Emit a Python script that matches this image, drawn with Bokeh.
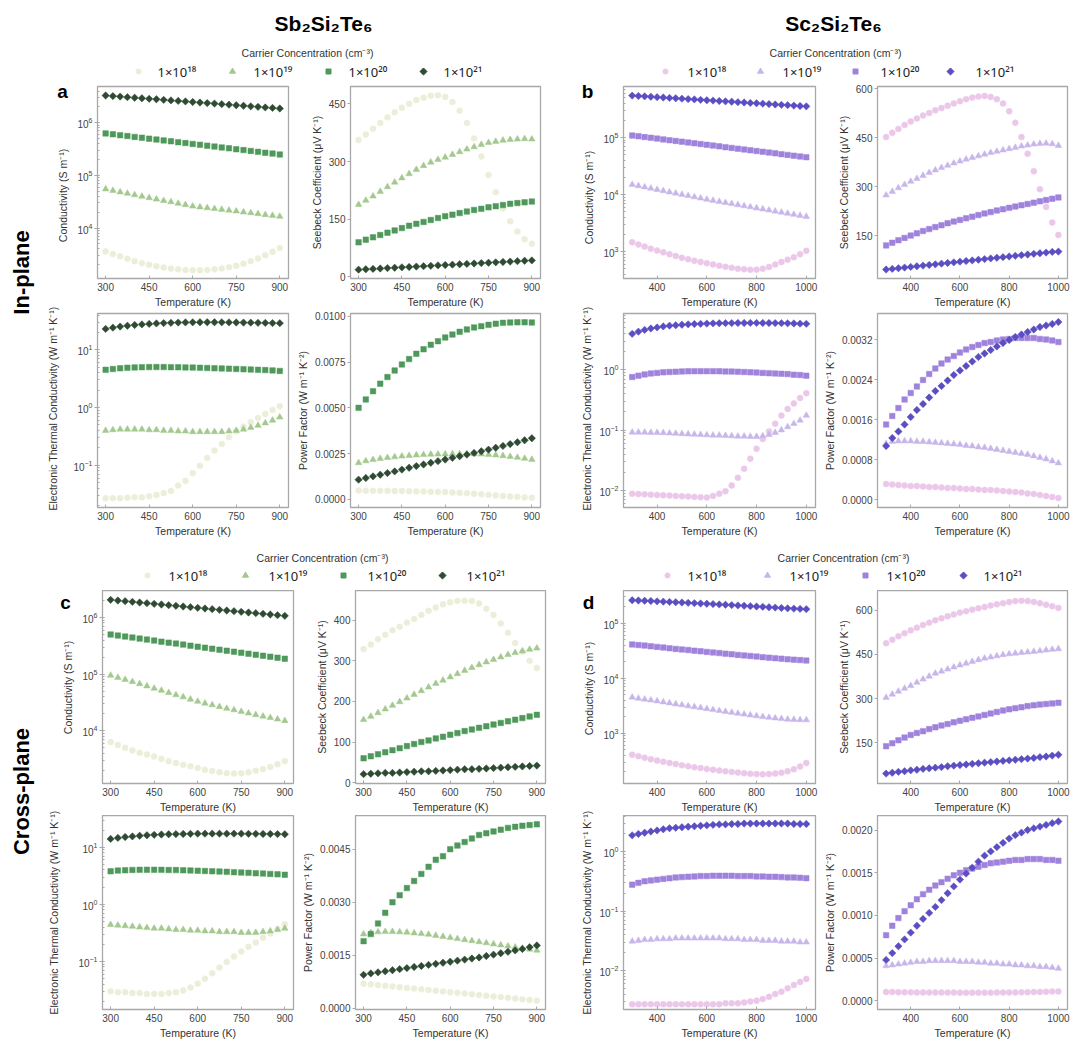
import math
from bokeh.plotting import figure
from bokeh.models import Range1d, FixedTicker, NumeralTickFormatter, Label, LogTicker, ColumnDataSource
from bokeh.layouts import row, column
from bokeh.embed import file_html
from bokeh.resources import INLINE

FONT = "Liberation Sans"
SUPFONT = "Noto Sans"
TXT = "#333333"
EDGE = "#a8a8a8"

# ---------------- data ----------------
T_SB = [300, 325, 350, 375, 400, 425, 450, 475, 500, 525, 550, 575, 600, 625, 650, 675, 700, 725, 750, 775, 800, 825, 850, 875, 900]
T_SC = [300, 325, 350, 375, 400, 425, 450, 475, 500, 525, 550, 575, 600, 625, 650, 675, 700, 725, 750, 775, 800, 825, 850, 875, 900, 925, 950, 975, 1000]
LEGEND_LABELS = ["1×10¹⁸", "1×10¹⁹", "1×10²⁰", "1×10²¹"]
LEGEND_TITLE = "Carrier Concentration (cm⁻³)"
TITLE_SB = "Sb₂Si₂Te₆"
TITLE_SC = "Sc₂Si₂Te₆"
ROW_LABELS = ["In-plane", "Cross-plane"]
PANEL_LETTERS = ["a", "b", "c", "d"]
XLABEL = "Temperature (K)"
YLABELS = ["Conductivity (S m⁻¹)", "Seebeck Coefficient (μV K⁻¹)",
           "Electronic Thermal Conductivity (W m⁻¹ K⁻¹)", "Power Factor (W m⁻¹ K⁻²)"]
X_TICKS_SB = [300, 450, 600, 750, 900]
X_TICKS_SC = [400, 600, 800, 1000]

# (a) Sb2Si2Te6 in-plane
A_COND_18 = [3600, 3200, 2900, 2600, 2350, 2150, 2000, 1880, 1780, 1700, 1640, 1600, 1580, 1580, 1600, 1640, 1700, 1800, 1920, 2100, 2350, 2650, 3050, 3550, 4200]
A_COND_19 = [55000, 51500, 48400, 45400, 42600, 40000, 37500, 35300, 33200, 31300, 29400, 27700, 26000, 25100, 24200, 23300, 22500, 21700, 20900, 20100, 19400, 18600, 17900, 17300, 16600]
A_COND_20 = [630000, 606000, 583000, 561000, 540000, 520000, 500000, 481000, 463000, 446000, 429000, 413000, 397000, 382000, 368000, 354000, 340000, 328000, 315000, 303000, 292000, 281000, 270000, 260000, 250000]
A_COND_21 = [3300000, 3220000, 3150000, 3070000, 3000000, 2930000, 2860000, 2800000, 2730000, 2670000, 2610000, 2550000, 2490000, 2430000, 2370000, 2320000, 2260000, 2210000, 2160000, 2110000, 2060000, 2010000, 1960000, 1920000, 1870000]
A_SEEB_18 = [356, 370, 385, 400, 415, 428, 440, 450, 460, 466, 471, 472, 468, 455, 432, 400, 360, 313, 265, 220, 178, 145, 118, 98, 86]
A_SEEB_19 = [188, 199, 210, 222, 234, 246, 257, 268, 279, 289, 298, 305, 311, 318, 325, 332, 338, 344, 349, 352, 355, 357, 358, 359, 358]
A_SEEB_20 = [90, 97, 103, 109, 115, 121, 127, 133, 138, 143, 148, 153, 158, 162, 166, 170, 174, 177, 181, 184, 187, 190, 192, 194, 196]
A_SEEB_21 = [19, 20, 21, 22, 23, 24, 25, 26, 27, 28, 29, 30, 31, 32, 33, 34, 35, 36, 37, 38, 39, 40, 41, 42, 43]
A_KAPPA_18 = [0.027, 0.027, 0.027, 0.0275, 0.028, 0.028, 0.029, 0.0306, 0.033, 0.036, 0.0445, 0.054, 0.073, 0.098, 0.134, 0.18, 0.234, 0.305, 0.39, 0.47, 0.556, 0.66, 0.775, 0.91, 1.05]
A_KAPPA_19 = [0.40, 0.41, 0.42, 0.42, 0.42, 0.42, 0.41, 0.41, 0.40, 0.40, 0.39, 0.39, 0.38, 0.38, 0.38, 0.38, 0.38, 0.39, 0.40, 0.42, 0.45, 0.49, 0.54, 0.60, 0.68]
A_KAPPA_20 = [4.5, 4.65, 4.78, 4.88, 4.95, 5.0, 5.02, 5.03, 5.02, 5.0, 4.98, 4.95, 4.92, 4.88, 4.84, 4.8, 4.76, 4.71, 4.66, 4.61, 4.56, 4.5, 4.45, 4.4, 4.3]
A_KAPPA_21 = [23, 24.2, 25.2, 26.1, 26.9, 27.5, 28.1, 28.6, 29.0, 29.3, 29.6, 29.8, 29.9, 30.0, 30.0, 30.0, 29.9, 29.8, 29.7, 29.6, 29.5, 29.3, 29.2, 29.0, 28.9]
A_PF_18 = [0.00049, 0.00048, 0.00048, 0.00047, 0.00047, 0.00046, 0.00046, 0.00045, 0.00044, 0.00043, 0.00042, 0.00041, 0.0004, 0.00038, 0.00036, 0.00034, 0.00031, 0.00028, 0.00025, 0.00022, 0.00019, 0.00016, 0.00014, 0.00011, 0.00009]
A_PF_19 = [0.00200, 0.00210, 0.00217, 0.00223, 0.00228, 0.00232, 0.00236, 0.00239, 0.00242, 0.00244, 0.00246, 0.00247, 0.00248, 0.00249, 0.00249, 0.00249, 0.00248, 0.00247, 0.00245, 0.00242, 0.00238, 0.00234, 0.00229, 0.00224, 0.00218]
A_PF_20 = [0.00500, 0.00546, 0.00591, 0.00632, 0.00668, 0.00704, 0.00737, 0.00766, 0.00795, 0.0082, 0.00844, 0.00864, 0.00884, 0.009, 0.00915, 0.00928, 0.00939, 0.00946, 0.00953, 0.00959, 0.00964, 0.00966, 0.00967, 0.00967, 0.00966]
A_PF_21 = [0.00108, 0.00117, 0.00126, 0.00135, 0.00144, 0.00153, 0.00163, 0.00173, 0.00182, 0.00191, 0.002, 0.00209, 0.00218, 0.00227, 0.00236, 0.00245, 0.00254, 0.00263, 0.00272, 0.00282, 0.00292, 0.00302, 0.00312, 0.00323, 0.00334]

# (b) Sc2Si2Te6 in-plane
B_COND_18 = [1460, 1330, 1220, 1120, 1040, 970, 900, 835, 776, 730, 690, 655, 625, 595, 565, 540, 518, 500, 488, 480, 482, 500, 535, 590, 655, 720, 795, 900, 1030]
B_COND_19 = [14900, 14170, 13480, 12820, 12200, 11600, 11040, 10500, 9990, 9500, 9040, 8600, 8180, 7830, 7500, 7190, 6880, 6590, 6310, 6040, 5790, 5540, 5310, 5080, 4870, 4660, 4460, 4280, 4100]
B_COND_20 = [108000, 104700, 101400, 98300, 95300, 92300, 89500, 86700, 84100, 81500, 79000, 76500, 74200, 71900, 69700, 67500, 65400, 63400, 61500, 59600, 57700, 55900, 54200, 52600, 50900, 49400, 47800, 46400, 45000]
B_COND_21 = [540000, 532000, 524000, 516000, 508000, 500000, 492000, 485000, 477000, 470000, 463000, 455000, 448000, 442000, 435000, 428000, 422000, 415000, 409000, 402000, 396000, 390000, 384000, 378000, 372000, 367000, 361000, 355000, 350000]
B_SEEB_18 = [452, 465, 477, 489, 500, 509, 518, 526, 534, 541, 548, 555, 562, 568, 573, 576, 578, 575, 568, 555, 531, 496, 452, 401, 347, 292, 238, 190, 152]
B_SEEB_19 = [274, 285, 296, 306, 316, 325, 334, 343, 351, 358, 365, 372, 378, 384, 389, 394, 399, 404, 408, 412, 416, 420, 424, 427, 430, 432, 433, 431, 426]
B_SEEB_20 = [120, 128, 136, 143, 150, 157, 164, 170, 176, 182, 188, 193, 198, 203, 208, 213, 218, 222, 227, 231, 235, 239, 243, 247, 251, 255, 259, 263, 267]
B_SEEB_21 = [46, 48, 50, 52, 54, 56, 58, 60, 62, 64, 66, 68, 70, 72, 74, 76, 78, 80, 82, 84, 86, 88, 90, 92, 94, 96, 98, 100, 101]
B_KAPPA_18 = [0.0088, 0.0087, 0.0086, 0.0085, 0.0084, 0.0083, 0.0082, 0.0081, 0.008, 0.0079, 0.0078, 0.0077, 0.0076, 0.0081, 0.0088, 0.0097, 0.0121, 0.0162, 0.0229, 0.0336, 0.049, 0.071, 0.095, 0.128, 0.174, 0.224, 0.277, 0.34, 0.41]
B_KAPPA_19 = [0.092, 0.092, 0.092, 0.091, 0.091, 0.09, 0.089, 0.088, 0.087, 0.086, 0.085, 0.084, 0.083, 0.082, 0.082, 0.081, 0.08, 0.079, 0.079, 0.078, 0.078, 0.08, 0.084, 0.091, 0.1, 0.113, 0.128, 0.145, 0.175]
B_KAPPA_20 = [0.76, 0.80, 0.84, 0.87, 0.89, 0.91, 0.92, 0.93, 0.94, 0.945, 0.95, 0.95, 0.95, 0.95, 0.945, 0.94, 0.935, 0.93, 0.92, 0.91, 0.9, 0.89, 0.88, 0.87, 0.86, 0.85, 0.83, 0.82, 0.80]
B_KAPPA_21 = [3.95, 4.3, 4.6, 4.85, 5.05, 5.25, 5.4, 5.5, 5.6, 5.68, 5.75, 5.8, 5.85, 5.9, 5.93, 5.95, 5.97, 5.98, 5.99, 6.0, 6.0, 5.99, 5.98, 5.96, 5.94, 5.91, 5.88, 5.84, 5.8]
B_PF_18 = [0.00031, 0.0003, 0.00029, 0.00028, 0.00027, 0.00027, 0.00026, 0.00025, 0.00025, 0.00024, 0.00023, 0.00023, 0.00022, 0.00021, 0.00021, 0.0002, 0.00019, 0.00019, 0.00018, 0.00017, 0.00016, 0.00015, 0.00014, 0.00012, 0.00011, 0.00009, 0.00007, 0.00005, 0.00003]
B_PF_19 = [0.00112, 0.00116, 0.00117, 0.00117, 0.00117, 0.00116, 0.00116, 0.00115, 0.00114, 0.00113, 0.00112, 0.00111, 0.0011, 0.00108, 0.00107, 0.00105, 0.00104, 0.00102, 0.001, 0.00098, 0.00096, 0.00094, 0.00092, 0.0009, 0.00087, 0.00084, 0.00081, 0.00077, 0.00073]
B_PF_20 = [0.0015, 0.00167, 0.00183, 0.002, 0.00213, 0.00226, 0.00239, 0.00251, 0.00262, 0.00272, 0.0028, 0.00287, 0.00294, 0.003, 0.00305, 0.00309, 0.00313, 0.00315, 0.00318, 0.0032, 0.00321, 0.00323, 0.00323, 0.00323, 0.00323, 0.00321, 0.0032, 0.00318, 0.00315]
B_PF_21 = [0.00107, 0.00123, 0.00136, 0.0015, 0.00165, 0.00179, 0.00191, 0.00204, 0.00217, 0.00227, 0.00238, 0.00249, 0.00258, 0.00267, 0.00276, 0.00285, 0.00292, 0.00299, 0.00306, 0.00313, 0.00319, 0.00325, 0.0033, 0.00335, 0.0034, 0.00345, 0.00348, 0.00351, 0.00355]

# (c) Sb2Si2Te6 cross-plane
C_COND_18 = [6300, 5600, 5000, 4500, 4100, 3800, 3500, 3200, 2900, 2700, 2500, 2350, 2200, 2050, 1950, 1850, 1780, 1750, 1770, 1850, 1970, 2100, 2300, 2550, 2900]
C_COND_19 = [95000, 87000, 80000, 73500, 67500, 61500, 56000, 51500, 47000, 43000, 39500, 36000, 33000, 30500, 28500, 26500, 24800, 23300, 21800, 20400, 19100, 18000, 17000, 16000, 15000]
C_COND_20 = [500000, 480000, 461000, 442000, 424000, 407000, 391000, 375000, 360000, 346000, 332000, 318000, 305000, 293000, 281000, 270000, 259000, 249000, 239000, 229000, 220000, 211000, 203000, 195000, 187000]
C_COND_21 = [2050000, 1995000, 1942000, 1890000, 1840000, 1791000, 1743000, 1696000, 1651000, 1607000, 1564000, 1522000, 1481000, 1442000, 1403000, 1366000, 1329000, 1294000, 1259000, 1226000, 1193000, 1161000, 1130000, 1100000, 1070000]
C_SEEB_18 = [329, 340, 353, 364, 375, 384, 394, 403, 413, 423, 431, 439, 444, 447, 448, 447, 441, 428, 413, 392, 369, 344, 322, 300, 282]
C_SEEB_19 = [155, 163, 172, 181, 190, 199, 208, 217, 226, 235, 244, 252, 260, 268, 276, 283, 290, 297, 303, 309, 315, 320, 324, 328, 331]
C_SEEB_20 = [60, 65, 70, 75, 80, 85, 90, 95, 100, 104, 109, 113, 118, 122, 127, 131, 135, 139, 143, 147, 151, 155, 159, 163, 167]
C_SEEB_21 = [21, 22, 23, 24, 24, 25, 26, 27, 28, 28, 29, 30, 31, 32, 33, 33, 34, 35, 36, 37, 38, 39, 40, 41, 42]
C_KAPPA_18 = [0.030, 0.029, 0.029, 0.028, 0.028, 0.027, 0.027, 0.027, 0.028, 0.029, 0.031, 0.035, 0.041, 0.05, 0.062, 0.078, 0.098, 0.122, 0.15, 0.18, 0.215, 0.26, 0.31, 0.37, 0.45]
C_KAPPA_19 = [0.44, 0.43, 0.42, 0.41, 0.40, 0.39, 0.38, 0.38, 0.37, 0.36, 0.36, 0.35, 0.35, 0.34, 0.34, 0.33, 0.33, 0.33, 0.32, 0.32, 0.32, 0.33, 0.34, 0.36, 0.38]
C_KAPPA_20 = [3.8, 3.9, 3.95, 4.0, 4.02, 4.03, 4.03, 4.02, 4.0, 3.98, 3.95, 3.92, 3.88, 3.84, 3.8, 3.76, 3.71, 3.66, 3.61, 3.56, 3.51, 3.46, 3.41, 3.36, 3.3]
C_KAPPA_21 = [14.0, 14.6, 15.1, 15.5, 15.9, 16.2, 16.5, 16.7, 16.9, 17.0, 17.1, 17.2, 17.3, 17.3, 17.3, 17.3, 17.3, 17.3, 17.3, 17.2, 17.2, 17.1, 17.1, 17.0, 16.9]
C_PF_18 = [0.0007, 0.00068, 0.00066, 0.00064, 0.00062, 0.0006, 0.00058, 0.00056, 0.00054, 0.00052, 0.0005, 0.00048, 0.00046, 0.00044, 0.00042, 0.0004, 0.00038, 0.00036, 0.00034, 0.00032, 0.0003, 0.00028, 0.00026, 0.00024, 0.00022]
C_PF_19 = [0.0021, 0.00214, 0.00216, 0.00217, 0.00217, 0.00216, 0.00215, 0.00213, 0.00211, 0.00209, 0.00206, 0.00203, 0.002, 0.00197, 0.00194, 0.00191, 0.00188, 0.00185, 0.00182, 0.00179, 0.00176, 0.00173, 0.0017, 0.00167, 0.00164]
C_PF_20 = [0.0019, 0.0021, 0.0024, 0.0027, 0.003, 0.0032, 0.0034, 0.0036, 0.0038, 0.004, 0.0042, 0.0043, 0.0045, 0.0046, 0.0047, 0.0048, 0.0049, 0.00495, 0.005, 0.00505, 0.0051, 0.00513, 0.00516, 0.00518, 0.0052]
C_PF_21 = [0.00095, 0.00099, 0.00102, 0.00105, 0.00108, 0.00111, 0.00114, 0.00117, 0.0012, 0.00123, 0.00126, 0.00129, 0.00132, 0.00135, 0.00138, 0.00141, 0.00144, 0.00148, 0.00152, 0.00156, 0.0016, 0.00164, 0.00168, 0.00173, 0.00178]

# (d) Sc2Si2Te6 cross-plane
D_COND_18 = [410, 385, 360, 340, 320, 305, 290, 277, 264, 253, 243, 234, 226, 218, 211, 205, 199, 194, 189, 185, 182, 181, 182, 186, 193, 205, 222, 250, 290]
D_COND_19 = [4500, 4300, 4150, 4000, 3850, 3700, 3550, 3400, 3270, 3140, 3020, 2900, 2790, 2680, 2580, 2480, 2390, 2300, 2220, 2140, 2070, 2000, 1940, 1890, 1840, 1800, 1780, 1760, 1750]
D_COND_20 = [41000, 40000, 39000, 38000, 37000, 36000, 35000, 34000, 33200, 32400, 31600, 30800, 30000, 29300, 28600, 27900, 27200, 26500, 25900, 25300, 24700, 24100, 23600, 23100, 22600, 22100, 21700, 21300, 20900]
D_COND_21 = [260000, 257000, 254000, 251000, 248000, 245000, 242000, 239000, 236000, 233000, 230000, 227000, 224000, 221000, 218000, 215000, 212000, 209000, 206000, 203000, 200000, 197000, 194000, 191000, 188000, 185000, 183000, 181000, 179000]
D_SEEB_18 = [488, 500, 512, 522, 532, 541, 550, 558, 566, 573, 580, 586, 592, 597, 602, 607, 611, 616, 620, 624, 628, 631, 632, 631, 628, 624, 619, 614, 608]
D_SEEB_19 = [304, 315, 325, 335, 344, 355, 366, 376, 386, 393, 400, 407, 414, 420, 426, 432, 437, 441, 445, 449, 452, 454, 456, 458, 460, 462, 465, 467, 469]
D_SEEB_20 = [139, 149, 159, 168, 177, 184, 190, 197, 203, 209, 214, 220, 225, 230, 235, 240, 245, 250, 255, 260, 264, 268, 271, 275, 278, 280, 282, 284, 286]
D_SEEB_21 = [46, 49, 52, 54, 57, 59, 62, 64, 66, 68, 71, 73, 75, 77, 79, 81, 83, 85, 87, 89, 91, 93, 95, 97, 99, 102, 104, 107, 110]
D_KAPPA_18 = [0.0027, 0.0027, 0.0027, 0.0027, 0.0027, 0.0027, 0.0027, 0.0027, 0.0027, 0.0027, 0.0027, 0.0027, 0.0027, 0.0027, 0.0027, 0.0028, 0.0028, 0.0028, 0.0029, 0.003, 0.0031, 0.0033, 0.0036, 0.004, 0.0044, 0.005, 0.0057, 0.0064, 0.0072]
D_KAPPA_19 = [0.031, 0.032, 0.033, 0.033, 0.034, 0.034, 0.034, 0.035, 0.035, 0.035, 0.035, 0.035, 0.035, 0.035, 0.035, 0.034, 0.034, 0.034, 0.033, 0.033, 0.033, 0.032, 0.032, 0.032, 0.031, 0.031, 0.031, 0.030, 0.030]
D_KAPPA_20 = [0.28, 0.3, 0.32, 0.33, 0.34, 0.35, 0.36, 0.37, 0.375, 0.38, 0.385, 0.39, 0.39, 0.395, 0.395, 0.395, 0.395, 0.39, 0.39, 0.39, 0.385, 0.385, 0.38, 0.38, 0.375, 0.37, 0.37, 0.365, 0.36]
D_KAPPA_21 = [1.9, 2.0, 2.1, 2.2, 2.3, 2.4, 2.5, 2.55, 2.6, 2.65, 2.7, 2.75, 2.8, 2.85, 2.9, 2.9, 2.95, 2.95, 3.0, 3.0, 3.0, 3.0, 3.0, 3.0, 3.0, 3.0, 2.95, 2.95, 2.95]
D_PF_18 = [0.000105, 0.000104, 0.000103, 0.000102, 0.000101, 0.0001, 0.0001, 0.000099, 0.000099, 0.000098, 0.000098, 0.000098, 0.000097, 0.000097, 0.000097, 0.000097, 0.000097, 0.000097, 0.000098, 0.000098, 0.000099, 0.0001, 0.000101, 0.000102, 0.000104, 0.000106, 0.000108, 0.00011, 0.000112]
D_PF_19 = [0.00041, 0.00042, 0.00043, 0.00044, 0.00045, 0.00046, 0.00046, 0.00047, 0.00047, 0.00047, 0.00047, 0.00047, 0.00046, 0.00046, 0.00046, 0.00045, 0.00045, 0.00044, 0.00044, 0.00043, 0.00043, 0.00042, 0.00042, 0.00041, 0.00041, 0.0004, 0.0004, 0.00039, 0.00038]
D_PF_20 = [0.00077, 0.00088, 0.00097, 0.00105, 0.00112, 0.00119, 0.00125, 0.0013, 0.00135, 0.00139, 0.00143, 0.00147, 0.0015, 0.00153, 0.00155, 0.00157, 0.00159, 0.00161, 0.00162, 0.00163, 0.00164, 0.00165, 0.00165, 0.00166, 0.00166, 0.00166, 0.00165, 0.00165, 0.00164]
D_PF_21 = [0.00048, 0.00056, 0.00064, 0.00072, 0.0008, 0.00088, 0.00096, 0.00103, 0.0011, 0.00118, 0.00126, 0.00134, 0.00142, 0.00149, 0.00156, 0.00163, 0.0017, 0.00175, 0.0018, 0.00185, 0.0019, 0.00194, 0.00197, 0.002, 0.00202, 0.00204, 0.00206, 0.00208, 0.0021]

# ---------------- styles ----------------
GREENS = ["#eceed9", "#a3c98f", "#4f985b", "#2f4a32"]
PURPLES = ["#ebc8e9", "#c8b6ea", "#9f82dc", "#5a4ec2"]
MARKERS = ["circle", "triangle", "square", "square"]
SIZES = [6, 6.5, 5.5, 5.2]
ANGLES = [0, 0, 0, math.pi / 4]
LEG_SIZES = [5, 6, 5, 5]
XR_SB = (272, 930)
XR_SC = (265, 1037)


def style_axis(ax, label):
    ax.axis_label = label
    ax.axis_label_text_font = FONT
    ax.axis_label_text_font_size = "10.5px"
    ax.axis_label_text_font_style = "normal"
    ax.axis_label_text_color = TXT
    ax.major_label_text_font = FONT
    ax.major_label_text_font_size = "10px"
    ax.major_label_text_color = "#444444"
    ax.axis_line_color = EDGE
    ax.major_tick_line_color = EDGE
    ax.minor_tick_line_color = EDGE


def make_panel(T, series, colors, xr, xticks, yr, log, ylabel, yticks, yfmt,
               width, height, left, right, top, bottom):
    p = figure(width=width, height=height, output_backend="svg", toolbar_location=None,
               x_range=Range1d(*xr), y_range=Range1d(*yr),
               y_axis_type="log" if log else "linear",
               min_border_left=left, min_border_right=right, min_border_top=top,
               min_border_bottom=bottom)
    p.xgrid.visible = False
    p.ygrid.visible = False
    p.outline_line_color = EDGE
    p.outline_line_width = 1.3
    for ys, c, m, s, a in zip(series, colors, MARKERS, SIZES, ANGLES):
        p.scatter(T, ys, marker=m, size=s, angle=a, fill_color=c, line_color=c, line_width=0.5)
    xa = p.xaxis[0]
    style_axis(xa, XLABEL)
    xa.ticker = FixedTicker(ticks=xticks)
    xa.major_tick_in = 3
    xa.major_tick_out = 0
    xa.minor_tick_in = 0
    xa.minor_tick_out = 0
    xa.major_label_standoff = 4
    xa.axis_label_standoff = 2
    ya = p.yaxis[0]
    style_axis(ya, ylabel)
    if log:
        ya.ticker = LogTicker(mantissas=[1], desired_num_ticks=4, num_minor_ticks=10)
        ya.minor_tick_in = 2
        ya.minor_tick_out = 0
    else:
        ya.ticker = FixedTicker(ticks=yticks)
        if yfmt:
            ya.formatter = NumeralTickFormatter(format=yfmt)
        ya.minor_tick_in = 0
        ya.minor_tick_out = 0
    ya.major_tick_in = 0
    ya.major_tick_out = 3
    ya.major_label_standoff = 2
    ya.axis_label_standoff = 3
    return p


def blank(width, height):
    p = figure(width=width, height=height, output_backend="svg", toolbar_location=None,
               x_range=Range1d(0, width), y_range=Range1d(0, height),
               x_axis_location=None, y_axis_location=None, min_border=0)
    p.xgrid.visible = False
    p.ygrid.visible = False
    p.outline_line_color = None
    return p


def add_text(p, x, y, text, size, bold=False, angle=0.0, color="black", align="center", font=FONT):
    p.add_layout(Label(x=x, y=y, text=text, text_font=font, text_font_size=size,
                       text_font_style="bold" if bold else "normal", angle=angle,
                       text_align=align, text_baseline="middle", text_color=color))


def add_legend(p, title_xy, key_xs, text_xs, key_y, colors):
    add_text(p, title_xy[0], title_xy[1], LEGEND_TITLE, "10.5px", color=TXT)
    src = ColumnDataSource(dict(x=key_xs, y=[key_y] * len(key_xs), m=MARKERS, s=LEG_SIZES,
                                a=ANGLES, c=colors))
    p.scatter(x="x", y="y", marker="m", size="s", angle="a", fill_color="c", line_color="c", source=src)
    for lbl, tx in zip(LEGEND_LABELS, text_xs):
        add_text(p, tx, key_y, lbl, "13px", color="#222222", align="left", font=SUPFONT)


# ---------- header (top): page y 0..80 ----------
h1 = blank(1080, 80)
add_text(h1, 323, 57, TITLE_SB, "21px", bold=True)
add_text(h1, 833, 57, TITLE_SC, "21px", bold=True)
add_legend(h1, (307, 28), [138, 232, 328, 423], [157, 253, 348, 443], 9, GREENS)
add_legend(h1, (835, 28), [665, 760, 855, 950], [687, 782, 880, 975], 9, PURPLES)

# ---------- header (bottom): page y 540..590 ----------
h2 = blank(1080, 50)
add_legend(h2, (322, 33), [147, 245, 343, 442], [168, 268, 367, 466], 15, GREENS)
add_legend(h2, (843, 33), [667, 767, 865, 963], [687, 789, 886, 983], 15, PURPLES)

# ---------- side strips (row label, panel letter, left-column y labels) ----------
s1 = blank(70, 460)            # page x 0..70, y 80..540
add_text(s1, 21, 268, ROW_LABELS[0], "22px", bold=True, angle=math.pi / 2)
add_text(s1, 62, 449, PANEL_LETTERS[0], "19px", bold=True)
add_text(s1, 62, 345, YLABELS[0], "10.5px", angle=math.pi / 2, color=TXT)
add_text(s1, 52, 132, YLABELS[2], "10.5px", angle=math.pi / 2, color=TXT)

sb = blank(51, 460)            # page x 545..596
add_text(sb, 42, 449, PANEL_LETTERS[1], "19px", bold=True)
add_text(sb, 43, 343, YLABELS[0], "10.5px", angle=math.pi / 2, color=TXT)
add_text(sb, 41, 132, YLABELS[2], "10.5px", angle=math.pi / 2, color=TXT)

s2 = blank(75, 465)            # page x 0..75, y 590..1055
add_text(s2, 21, 264, ROW_LABELS[1], "22px", bold=True, angle=math.pi / 2)
add_text(s2, 65, 453, PANEL_LETTERS[2], "19px", bold=True)
add_text(s2, 67, 368, YLABELS[0], "10.5px", angle=math.pi / 2, color=TXT)
add_text(s2, 53, 143, YLABELS[2], "10.5px", angle=math.pi / 2, color=TXT)

sd = blank(46, 465)            # page x 550..596
add_text(sd, 38, 453, PANEL_LETTERS[3], "19px", bold=True)
add_text(sd, 38, 367, YLABELS[0], "10.5px", angle=math.pi / 2, color=TXT)
add_text(sd, 36, 143, YLABELS[2], "10.5px", angle=math.pi / 2, color=TXT)

# ---------- panels ----------
a1 = make_panel(T_SB, [A_COND_18, A_COND_19, A_COND_20, A_COND_21], GREENS, XR_SB, X_TICKS_SB,
                (1100, 4.9e6), True, None, None, None, 223, 230, 25, 5, 6, 30)
a3 = make_panel(T_SB, [A_KAPPA_18, A_KAPPA_19, A_KAPPA_20, A_KAPPA_21], GREENS, XR_SB, X_TICKS_SB,
                (0.0186, 42.5), True, None, None, None, 223, 230, 25, 5, 3, 33)
a2 = make_panel(T_SB, [A_SEEB_18, A_SEEB_19, A_SEEB_20, A_SEEB_21], GREENS, XR_SB, X_TICKS_SB,
                (-4, 495), False, YLABELS[1], [0, 150, 300, 450], None, 252, 230, 54, 5, 6, 30)
a4 = make_panel(T_SB, [A_PF_18, A_PF_19, A_PF_20, A_PF_21], GREENS, XR_SB, X_TICKS_SB,
                (-0.00044, 0.01015), False, YLABELS[3], [0, 0.0025, 0.005, 0.0075, 0.01], "0.0000",
                252, 230, 54, 5, 3, 33)
b1 = make_panel(T_SC, [B_COND_18, B_COND_19, B_COND_20, B_COND_21], PURPLES, XR_SC, X_TICKS_SC,
                (337, 7.8e5), True, None, None, None, 224, 230, 25, 5, 6, 30)
b3 = make_panel(T_SC, [B_KAPPA_18, B_KAPPA_19, B_KAPPA_20, B_KAPPA_21], PURPLES, XR_SC, X_TICKS_SC,
                (0.0052, 8.6), True, None, None, None, 224, 230, 25, 5, 3, 33)
b2 = make_panel(T_SC, [B_SEEB_18, B_SEEB_19, B_SEEB_20, B_SEEB_21], PURPLES, XR_SC, X_TICKS_SC,
                (18.5, 607), False, YLABELS[1], [150, 300, 450, 600], None, 260, 230, 53, 13, 6, 30)
b4 = make_panel(T_SC, [B_PF_18, B_PF_19, B_PF_20, B_PF_21], PURPLES, XR_SC, X_TICKS_SC,
                (-0.00016, 0.00372), False, YLABELS[3], [0, 0.0008, 0.0016, 0.0024, 0.0032], "0.0000",
                260, 230, 53, 13, 3, 33)

c1 = make_panel(T_SB, [C_COND_18, C_COND_19, C_COND_20, C_COND_21], GREENS, XR_SB, X_TICKS_SB,
                (1170, 3.0e6), True, None, None, None, 223, 225, 25, 5, 0, 30)
c3 = make_panel(T_SB, [C_KAPPA_18, C_KAPPA_19, C_KAPPA_20, C_KAPPA_21], GREENS, XR_SB, X_TICKS_SB,
                (0.0144, 36), True, None, None, None, 223, 240, 25, 5, 0, 46)
c2 = make_panel(T_SB, [C_SEEB_18, C_SEEB_19, C_SEEB_20, C_SEEB_21], GREENS, XR_SB, X_TICKS_SB,
                (-2, 473), False, YLABELS[1], [0, 100, 200, 300, 400], None, 252, 225, 54, 5, 0, 30)
c4 = make_panel(T_SB, [C_PF_18, C_PF_19, C_PF_20, C_PF_21], GREENS, XR_SB, X_TICKS_SB,
                (-0.00003, 0.00545), False, YLABELS[3], [0, 0.0015, 0.003, 0.0045], "0.0000",
                252, 240, 54, 5, 0, 46)
d1 = make_panel(T_SC, [D_COND_18, D_COND_19, D_COND_20, D_COND_21], PURPLES, XR_SC, X_TICKS_SC,
                (123, 3.9e5), True, None, None, None, 224, 225, 25, 5, 0, 30)
d3 = make_panel(T_SC, [D_KAPPA_18, D_KAPPA_19, D_KAPPA_20, D_KAPPA_21], PURPLES, XR_SC, X_TICKS_SC,
                (0.0022, 4.1), True, None, None, None, 224, 240, 25, 5, 0, 46)
d2 = make_panel(T_SC, [D_SEEB_18, D_SEEB_19, D_SEEB_20, D_SEEB_21], PURPLES, XR_SC, X_TICKS_SC,
                (12.4, 667), False, YLABELS[1], [150, 300, 450, 600], None, 260, 225, 53, 13, 0, 30)
d4 = make_panel(T_SC, [D_PF_18, D_PF_19, D_PF_20, D_PF_21], PURPLES, XR_SC, X_TICKS_SC,
                (-0.0001, 0.00217), False, YLABELS[3], [0, 0.0005, 0.001, 0.0015, 0.002], "0.0000",
                260, 240, 53, 13, 0, 46)

top = row(s1, column(a1, a3), column(a2, a4), sb, column(b1, b3), column(b2, b4))
bottom = row(s2, column(c1, c3), column(c2, c4), sd, column(d1, d3), column(d2, d4))
layout = column(h1, top, h2, bottom)

open("out.html", "w").write(file_html(layout, INLINE))
